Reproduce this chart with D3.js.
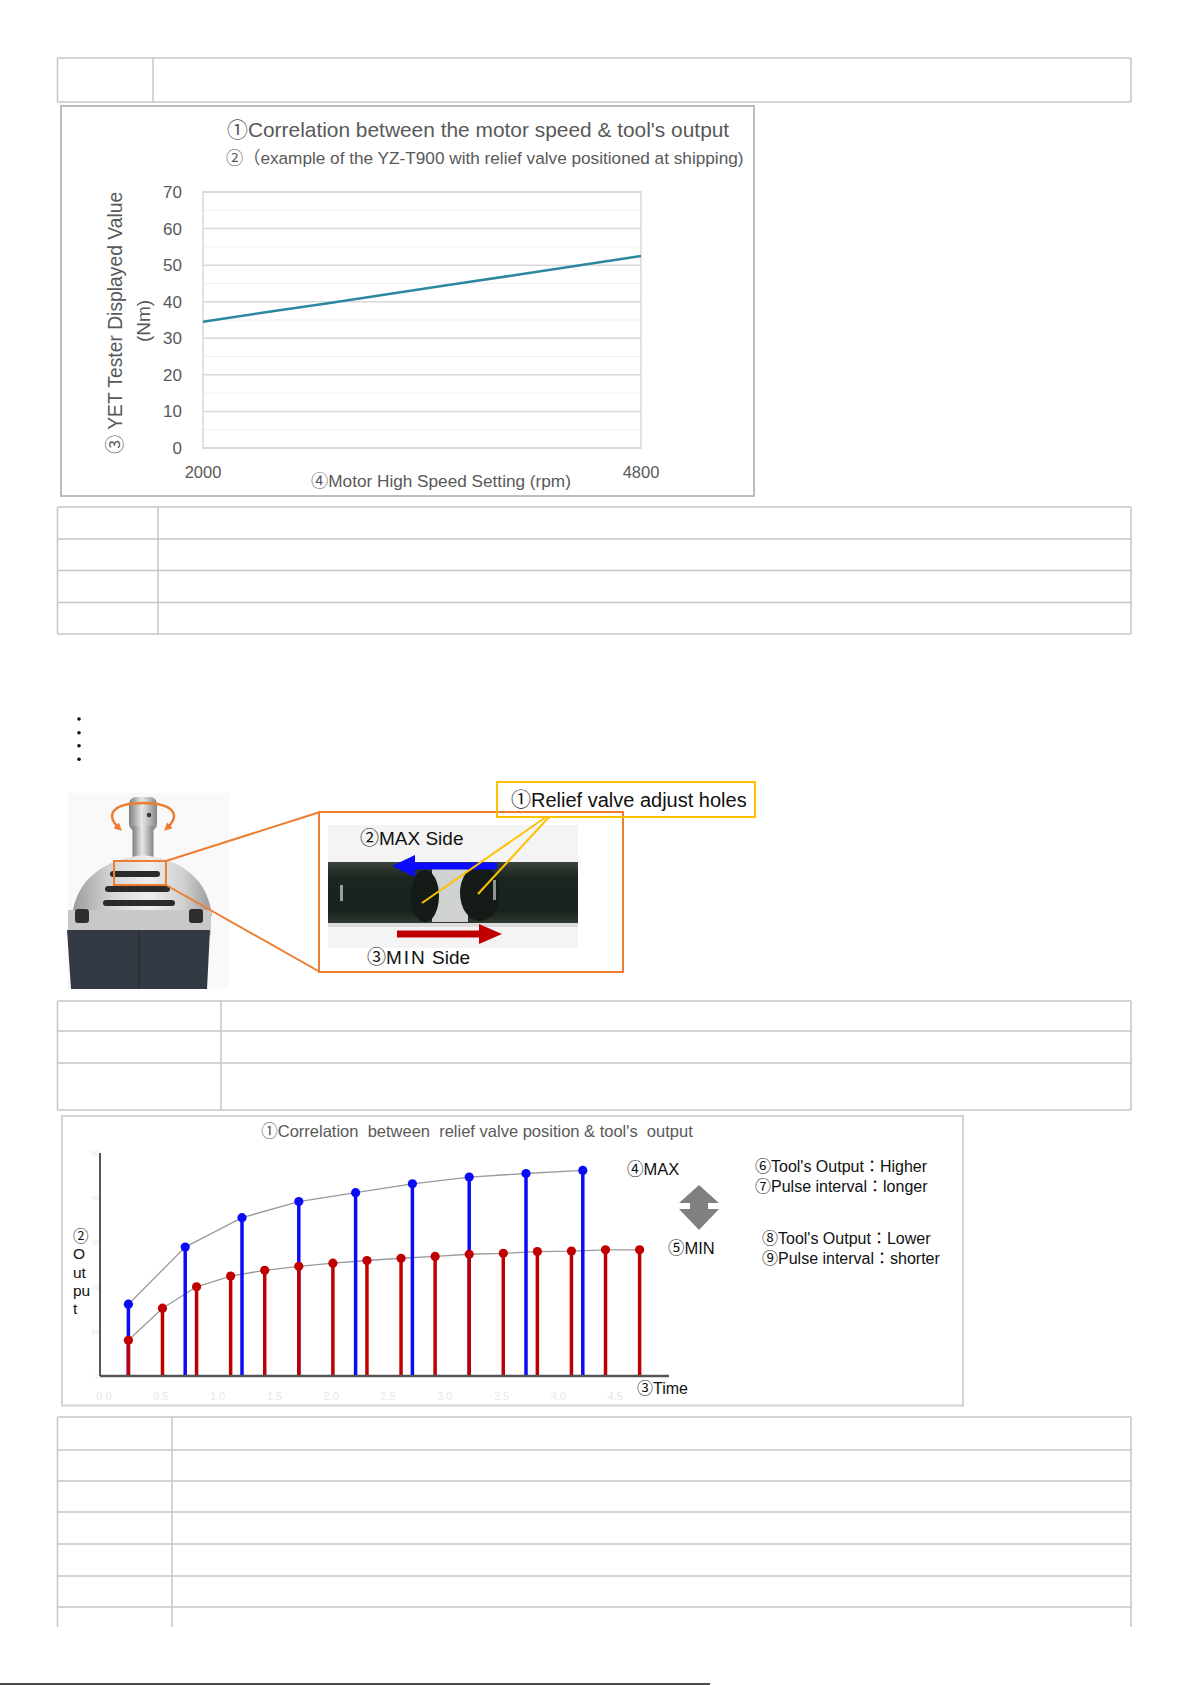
<!DOCTYPE html>
<html><head><meta charset="utf-8">
<script src="https://cdn.jsdelivr.net/npm/d3@7"></script>
<style>
body{margin:0;background:#fff}
svg{display:block}
text{font-family:"Liberation Sans",Arial,"Noto Sans CJK JP",sans-serif}
</style>
</head><body>
<svg id="c" width="1191" height="1685"></svg>
<script>
// ---------- data: chart 1 (motor speed vs tool output) ----------
const speedRpm  = [2000, 2400, 2800, 3200, 3600, 4000, 4400, 4800];
const testerNm  = [34.5, 37.1, 39.6, 42.2, 44.8, 47.3, 49.9, 52.5];
const nmTicks   = [0, 10, 20, 30, 40, 50, 60, 70];
const nmMinor   = [5, 15, 25, 35, 45, 55, 65];
const rpmTicks  = [2000, 4800];

// ---------- data: chart 2 (relief valve position vs output pulses) ----------
const maxTimes  = [2.5, 7.5, 12.5, 17.5, 22.5, 27.5, 32.5, 37.5, 42.5];
const maxOutput = [16.1, 28.9, 35.5, 39.1, 41.1, 43.1, 44.6, 45.4, 46.1];
const minTimes  = [2.5, 5.5, 8.5, 11.5, 14.5, 17.5, 20.5, 23.5, 26.5, 29.5, 32.5, 35.5, 38.5, 41.5, 44.5, 47.5];
const minOutput = [8.0, 15.2, 20.0, 22.4, 23.7, 24.6, 25.3, 25.9, 26.4, 26.8, 27.3, 27.5, 27.9, 28.0, 28.3, 28.3];
const outputTicks = [0, 10, 20, 30, 40, 50];
const timeTicks   = [0, 5, 10, 15, 20, 25, 30, 35, 40, 45];
const timeTickLabels = ["0.0","0.5","1.0","1.5","2.0","2.5","3.0","3.5","4.0","4.5"];

// ---------- table row lines ----------
const table1Rows = [58, 102];
const table2Rows = [507, 539, 570.5, 602.5, 634];
const table3Rows = [1001, 1031, 1063, 1110];
const table4Rows = [1417, 1450, 1481, 1512, 1544, 1576, 1607];

const svg = d3.select("#c");
const BORDER = "#c6c6c6";

function table(rows, xDiv, openBottomTo) {
  const g = svg.append("g");
  const x0 = 57.5, x1 = 1131;
  const yTop = rows[0];
  const yBot = openBottomTo || rows[rows.length - 1];
  rows.forEach(y => g.append("line").attr("x1", x0).attr("x2", x1).attr("y1", y).attr("y2", y)
    .attr("stroke", BORDER).attr("stroke-width", 1.5));
  [x0, xDiv, x1].forEach(x => g.append("line").attr("x1", x).attr("x2", x).attr("y1", yTop).attr("y2", yBot)
    .attr("stroke", BORDER).attr("stroke-width", 1.5));
}
table(table1Rows, 153);
table(table2Rows, 158);
table(table3Rows, 221);
table(table4Rows, 172, 1627);

// ================= CHART 1 =================
svg.append("rect").attr("x", 61).attr("y", 106).attr("width", 693).attr("height", 390)
  .attr("fill", "none").attr("stroke", "#bdbdbd").attr("stroke-width", 2);

const x1s = d3.scaleLinear().domain([2000, 4800]).range([203, 641]);
const y1s = d3.scaleLinear().domain([0, 70]).range([448, 192]);
const c1 = svg.append("g");

c1.selectAll(".minor").data(nmMinor).join("line")
  .attr("x1", x1s(2000)).attr("x2", x1s(4800)).attr("y1", d => y1s(d)).attr("y2", d => y1s(d))
  .attr("stroke", "#efefef").attr("stroke-width", 1);
c1.selectAll(".major").data(nmTicks).join("line")
  .attr("x1", x1s(2000)).attr("x2", x1s(4800)).attr("y1", d => y1s(d)).attr("y2", d => y1s(d))
  .attr("stroke", "#d9d9d9").attr("stroke-width", 1.5);
c1.append("rect").attr("x", x1s(2000)).attr("y", y1s(70))
  .attr("width", x1s(4800) - x1s(2000)).attr("height", y1s(0) - y1s(70))
  .attr("fill", "none").attr("stroke", "#d9d9d9").attr("stroke-width", 1.5);

c1.append("path").datum(d3.zip(speedRpm, testerNm))
  .attr("d", d3.line().x(d => x1s(d[0])).y(d => y1s(d[1])))
  .attr("fill", "none").attr("stroke", "#2c87a0").attr("stroke-width", 2.5);

c1.selectAll(".yl").data(nmTicks).join("text")
  .attr("x", 182).attr("y", d => y1s(d)).attr("dy", "0.35em").attr("text-anchor", "end")
  .attr("font-size", 17).attr("fill", "#595959").text(d => d);
c1.selectAll(".xl").data(rpmTicks).join("text")
  .attr("x", d => x1s(d)).attr("y", 472).attr("dy", "0.35em").attr("text-anchor", "middle")
  .attr("font-size", 16.5).attr("fill", "#595959").text(d => d);

c1.append("text").attr("x", 227).attr("y", 130).attr("dy", "0.35em")
  .attr("font-size", 20.9).attr("fill", "#595959")
  .text("①Correlation between the motor speed & tool's output");
c1.append("text").attr("x", 226).attr("y", 158).attr("dy", "0.35em")
  .attr("font-size", 17.2).attr("fill", "#595959")
  .text("②（example of the YZ-T900 with relief valve positioned at shipping)");
c1.append("text").attr("transform", "translate(115,323) rotate(-90)").attr("dy", "0.35em")
  .attr("text-anchor", "middle").attr("font-size", 19.3).attr("fill", "#595959")
  .text("③ YET Tester Displayed Value");
c1.append("text").attr("transform", "translate(143,321) rotate(-90)").attr("dy", "0.35em")
  .attr("text-anchor", "middle").attr("font-size", 19).attr("fill", "#595959")
  .text("(Nm)");
c1.append("text").attr("x", 441).attr("y", 481).attr("dy", "0.35em").attr("text-anchor", "middle")
  .attr("font-size", 17.2).attr("fill", "#595959")
  .text("④Motor High Speed Setting (rpm)");

// ================= bullets =================
svg.selectAll(".bul").data([719, 732.7, 745.7, 759.3]).join("circle")
  .attr("cx", 79).attr("cy", d => d).attr("r", 1.8).attr("fill", "#111");

// ================= Illustration (tool + relief valve) =================
const defs = svg.append("defs");
const gSil = defs.append("linearGradient").attr("id", "sil").attr("x1", 0).attr("x2", 1);
[["0", "#7d7d7d"], ["0.45", "#e6e6e6"], ["0.6", "#d0d0d0"], ["1", "#858585"]]
  .forEach(s => gSil.append("stop").attr("offset", s[0]).attr("stop-color", s[1]));
const gBody = defs.append("linearGradient").attr("id", "body").attr("x1", 0).attr("x2", 1);
[["0", "#9a9a9a"], ["0.3", "#d8d8d8"], ["0.55", "#efefef"], ["0.8", "#cfcfcf"], ["1", "#9a9a9a"]]
  .forEach(s => gBody.append("stop").attr("offset", s[0]).attr("stop-color", s[1]));
const gStrip = defs.append("linearGradient").attr("id", "strip").attr("x1", 0).attr("x2", 0).attr("y1", 0).attr("y2", 1);
[["0", "#3a443c"], ["0.25", "#1c2620"], ["0.8", "#18211b"], ["1", "#2e3830"]]
  .forEach(s => gStrip.append("stop").attr("offset", s[0]).attr("stop-color", s[1]));
const mk = defs.append("marker").attr("id", "oarr").attr("viewBox", "0 0 10 10")
  .attr("refX", 5).attr("refY", 5).attr("markerWidth", 3.2).attr("markerHeight", 3.2)
  .attr("orient", "auto-start-reverse");
mk.append("path").attr("d", "M0,0 L10,5 L0,10 z").attr("fill", "#ED7D31");

const il = svg.append("g");
il.append("rect").attr("x", 68).attr("y", 793).attr("width", 161).attr("height", 196).attr("fill", "#f9f9f9");
// shaft
il.append("rect").attr("x", 129).attr("y", 797).attr("width", 28).attr("height", 34).attr("rx", 7).attr("fill", "url(#sil)");
il.append("rect").attr("x", 132.5).attr("y", 826).attr("width", 21).attr("height", 32).attr("fill", "url(#sil)");
il.append("circle").attr("cx", 149).attr("cy", 815).attr("r", 2.2).attr("fill", "#333");
// body
il.append("path").attr("d", "M72,916 C76,882 100,860 143,855 C186,860 208,882 212,916 Z").attr("fill", "url(#body)");
il.append("rect").attr("x", 68).attr("y", 910).attr("width", 143).attr("height", 25).attr("fill", "#c8c8c8");
il.append("path").attr("d", "M67,930 L210,930 L207,989 L71,989 Z").attr("fill", "#343a44");
il.append("line").attr("x1", 139).attr("x2", 139).attr("y1", 931).attr("y2", 989).attr("stroke", "#272c34").attr("stroke-width", 1.5);
il.append("rect").attr("x", 75).attr("y", 909).attr("width", 14).attr("height", 14).attr("rx", 3).attr("fill", "#2e2e2e");
il.append("rect").attr("x", 189).attr("y", 909).attr("width", 14).attr("height", 14).attr("rx", 3).attr("fill", "#2e2e2e");
[[110, 871, 50], [105, 886, 65], [103, 900, 72]].forEach(s =>
  il.append("rect").attr("x", s[0]).attr("y", s[1]).attr("width", s[2]).attr("height", 6).attr("rx", 3).attr("fill", "#2b2b2b"));
// orange rotation arrows
il.append("path").attr("d", "M119,828 C104,814 114,803 143,803 C172,803 182,814 167,828")
  .attr("fill", "none").attr("stroke", "#ED7D31").attr("stroke-width", 2.5)
  .attr("marker-start", "url(#oarr)").attr("marker-end", "url(#oarr)");
// zoom indication
il.append("rect").attr("x", 114).attr("y", 861).attr("width", 52).attr("height", 24)
  .attr("fill", "none").attr("stroke", "#ED7D31").attr("stroke-width", 2);
il.append("line").attr("x1", 166).attr("y1", 861).attr("x2", 320).attr("y2", 812).attr("stroke", "#ED7D31").attr("stroke-width", 2);
il.append("line").attr("x1", 166).attr("y1", 885).attr("x2", 320).attr("y2", 972).attr("stroke", "#ED7D31").attr("stroke-width", 2);

// inner photo
il.append("rect").attr("x", 328).attr("y", 825).attr("width", 250).attr("height", 123).attr("fill", "#f4f4f4");
il.append("rect").attr("x", 328).attr("y", 862).attr("width", 250).attr("height", 61).attr("fill", "url(#strip)");
il.append("rect").attr("x", 432).attr("y", 868).attr("width", 36).attr("height", 54).attr("fill", "#cfd2cf");
il.append("ellipse").attr("cx", 425).attr("cy", 896).attr("rx", 14).attr("ry", 26).attr("fill", "#141a16");
il.append("ellipse").attr("cx", 480).attr("cy", 893).attr("rx", 20).attr("ry", 28).attr("fill", "#141a16");
il.append("rect").attr("x", 340).attr("y", 885).attr("width", 3).attr("height", 16).attr("fill", "#9aa09a");
il.append("rect").attr("x", 493).attr("y", 880).attr("width", 3).attr("height", 20).attr("fill", "#8f958f");
il.append("rect").attr("x", 328).attr("y", 923).attr("width", 250).attr("height", 4).attr("fill", "#dcdcdc");
// blue arrow (MAX side), red arrow (MIN side)
il.append("path").attr("d", "M497,862.5 L415,862.5 L415,855 L392,866 L415,877 L415,869.5 L497,869.5 Z").attr("fill", "#0a0aff");
il.append("path").attr("d", "M397,930.5 L479,930.5 L479,924 L502,934 L479,944 L479,937.5 L397,937.5 Z").attr("fill", "#c00000");
// yellow callout
il.append("line").attr("x1", 546).attr("y1", 817).attr("x2", 422).attr("y2", 903).attr("stroke", "#FFC000").attr("stroke-width", 2);
il.append("line").attr("x1", 549).attr("y1", 817).attr("x2", 478).attr("y2", 894).attr("stroke", "#FFC000").attr("stroke-width", 2);
il.append("rect").attr("x", 319).attr("y", 812).attr("width", 304).attr("height", 160)
  .attr("fill", "none").attr("stroke", "#ED7D31").attr("stroke-width", 2);
il.append("rect").attr("x", 497).attr("y", 782).attr("width", 258).attr("height", 35)
  .attr("fill", "none").attr("stroke", "#FFC000").attr("stroke-width", 2);
il.append("text").attr("x", 511).attr("y", 800).attr("dy", "0.35em").attr("font-size", 20).attr("fill", "#111")
  .text("①Relief valve adjust holes");
il.append("text").attr("x", 360).attr("y", 838).attr("dy", "0.35em").attr("font-size", 19).attr("fill", "#111")
  .text("②MAX Side");
const minT = il.append("text").attr("x", 367).attr("y", 957).attr("dy", "0.35em").attr("font-size", 19).attr("fill", "#111");
minT.append("tspan").text("③");
minT.append("tspan").attr("letter-spacing", 2).text("MIN");
minT.append("tspan").text(" Side");

// ================= CHART 2 =================
svg.append("rect").attr("x", 62).attr("y", 1116).attr("width", 901).attr("height", 289.5)
  .attr("fill", "none").attr("stroke", "#d3d3d3").attr("stroke-width", 2);

const x2s = d3.scaleLinear().domain([0, 50]).range([100, 668]);
const y2s = d3.scaleLinear().domain([0, 50]).range([1376, 1153]);
const c2 = svg.append("g");

c2.append("text").attr("x", 477).attr("y", 1131).attr("dy", "0.35em").attr("text-anchor", "middle")
  .attr("font-size", 16.5).attr("fill", "#595959").style("white-space", "pre")
  .text("①Correlation  between  relief valve position & tool's  output");

// faint tick labels
c2.selectAll(".yt").data(outputTicks).join("text")
  .attr("x", 99.5).attr("y", d => y2s(d)).attr("dy", "0.35em").attr("text-anchor", "end")
  .attr("font-size", 7.5).attr("fill", "#e8e8e8").text(d => d);
c2.selectAll(".xt").data(timeTicks).join("text")
  .attr("x", (d) => x2s(d) + 4).attr("y", 1396).attr("dy", "0.35em").attr("text-anchor", "middle")
  .attr("font-size", 11).attr("fill", "#e8e8e8").text((d, i) => timeTickLabels[i]);

// connecting curves
const lineGen = d3.line().x(d => x2s(d[0])).y(d => y2s(d[1]));
c2.append("path").datum(d3.zip(maxTimes, maxOutput)).attr("d", lineGen)
  .attr("fill", "none").attr("stroke", "#9a9a9a").attr("stroke-width", 1.3);
c2.append("path").datum(d3.zip(minTimes, minOutput)).attr("d", lineGen)
  .attr("fill", "none").attr("stroke", "#9a9a9a").attr("stroke-width", 1.3);

// stems
const BLUE = "#0b0bf5", RED = "#c00000";
c2.selectAll(".bs").data(d3.zip(maxTimes, maxOutput)).join("line")
  .attr("x1", d => x2s(d[0])).attr("x2", d => x2s(d[0])).attr("y1", d => y2s(d[1])).attr("y2", y2s(0))
  .attr("stroke", BLUE).attr("stroke-width", 3.5);
c2.selectAll(".bd").data(d3.zip(maxTimes, maxOutput)).join("circle")
  .attr("cx", d => x2s(d[0])).attr("cy", d => y2s(d[1])).attr("r", 4.6).attr("fill", BLUE);
c2.selectAll(".rs").data(d3.zip(minTimes, minOutput)).join("line")
  .attr("x1", d => x2s(d[0])).attr("x2", d => x2s(d[0])).attr("y1", d => y2s(d[1])).attr("y2", y2s(0))
  .attr("stroke", RED).attr("stroke-width", 3.5);
c2.selectAll(".rd").data(d3.zip(minTimes, minOutput)).join("circle")
  .attr("cx", d => x2s(d[0])).attr("cy", d => y2s(d[1])).attr("r", 4.6).attr("fill", RED);

// axes
c2.append("line").attr("x1", x2s(0)).attr("x2", x2s(0)).attr("y1", y2s(50)).attr("y2", y2s(0))
  .attr("stroke", "#444").attr("stroke-width", 1.8);
c2.append("line").attr("x1", x2s(0)).attr("x2", 669).attr("y1", y2s(0)).attr("y2", y2s(0))
  .attr("stroke", "#555").attr("stroke-width", 2.5);

// axis labels
const ylab = [["②", 1237], ["O", 1254], ["ut", 1273], ["pu", 1291], ["t", 1309]];
c2.selectAll(".ylab").data(ylab).join("text")
  .attr("x", 73).attr("y", d => d[1]).attr("dy", "0.35em").attr("font-size", 15.5).attr("fill", "#111")
  .text(d => d[0]);
c2.append("text").attr("x", 637).attr("y", 1388).attr("dy", "0.35em").attr("font-size", 16).attr("fill", "#111").text("③Time");
c2.append("text").attr("x", 627).attr("y", 1169).attr("dy", "0.35em").attr("font-size", 16.5).attr("fill", "#111").text("④MAX");
c2.append("text").attr("x", 668).attr("y", 1248).attr("dy", "0.35em").attr("font-size", 16.5).attr("fill", "#111").text("⑤MIN");
c2.append("path").attr("d", "M699,1185 L719,1203 L708,1203 L708,1209 L719,1209 L699,1230 L679,1209 L690,1209 L690,1203 L679,1203 Z")
  .attr("fill", "#808080");
const notes = [["⑥Tool's Output：Higher", 755, 1166], ["⑦Pulse interval：longer", 755, 1186],
               ["⑧Tool's Output：Lower", 762, 1238], ["⑨Pulse interval：shorter", 762, 1258]];
c2.selectAll(".note").data(notes).join("text")
  .attr("x", d => d[1]).attr("y", d => d[2]).attr("dy", "0.35em").attr("font-size", 16).attr("fill", "#111")
  .text(d => d[0]);

// page edge line
svg.append("line").attr("x1", 0).attr("x2", 710).attr("y1", 1684).attr("y2", 1684).attr("stroke", "#111").attr("stroke-width", 1.5);
</script>
</body></html>
